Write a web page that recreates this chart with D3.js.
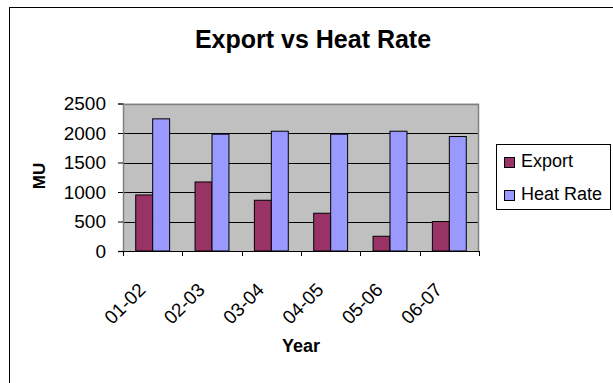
<!DOCTYPE html>
<html>
<head>
<meta charset="utf-8">
<script src="https://cdn.jsdelivr.net/npm/d3@7"></script>
<style>
  html, body { margin: 0; padding: 0; background: #fff; }
  svg { display: block; font-family: "Liberation Sans", Arial, sans-serif; }
</style>
</head>
<body>
<svg id="chart" width="613" height="383"></svg>
<script>
// Yearly export and heat rate figures (MU)
const years = ["01-02", "02-03", "03-04", "04-05", "05-06", "06-07"];
const exportValues = [950, 1170, 860, 640, 250, 500];
const heatRateValues = [2240, 1980, 2030, 1980, 2030, 1940];
const seriesNames = ["Export", "Heat Rate"];
const seriesColors = ["#993366", "#9999FF"];
const yTicks = [0, 500, 1000, 1500, 2000, 2500];

const rows = years.map((y, i) => ({ year: y, values: [exportValues[i], heatRateValues[i]] }));

const svg = d3.select("#chart");
const plot = { left: 123, right: 479, top: 103.5, bottom: 251 };

// Outer chart frame (runs off the right and bottom edges)
svg.append("rect")
  .attr("x", 9.5).attr("y", 7.5)
  .attr("width", 700).attr("height", 500)
  .attr("fill", "#fff").attr("stroke", "#000").attr("stroke-width", 1);

const x = d3.scaleBand().domain(years).range([plot.left, plot.right]).paddingInner(0).paddingOuter(0);
// two bars per year with a 150% gap split on both sides
const inner = d3.scaleBand().domain(d3.range(seriesNames.length))
  .range([0, x.bandwidth()]).paddingInner(0).paddingOuter(0.75);
const y = d3.scaleLinear().domain([0, 2500]).range([plot.bottom, plot.top]);

// Plot area background
svg.append("rect")
  .attr("x", plot.left).attr("y", plot.top)
  .attr("width", plot.right - plot.left).attr("height", plot.bottom - plot.top)
  .attr("fill", "#C0C0C0");

// Horizontal gridlines
svg.append("g")
  .selectAll("line")
  .data(yTicks.filter(t => t > 0 && t < 2500))
  .join("line")
  .attr("x1", plot.left).attr("x2", plot.right)
  .attr("y1", d => Math.round(y(d)) + 0.5).attr("y2", d => Math.round(y(d)) + 0.5)
  .attr("stroke", "#000").attr("stroke-width", 1);

// Plot border (top and right)
svg.append("path")
  .attr("d", `M${plot.left},${Math.round(plot.top) + 0.5}H${plot.right - 0.5}V${plot.bottom}`)
  .attr("fill", "none").attr("stroke", "#808080").attr("stroke-width", 1.5);

// Bars
const groups = svg.append("g").selectAll("g")
  .data(rows)
  .join("g")
  .attr("transform", d => `translate(${x(d.year)},0)`);

groups.selectAll("rect")
  .data(d => d.values.map((v, i) => ({ v, i })))
  .join("rect")
  .attr("x", d => inner(d.i))
  .attr("width", inner.bandwidth())
  .attr("y", d => y(d.v))
  .attr("height", d => y(0) - y(d.v))
  .attr("fill", d => seriesColors[d.i])
  .attr("stroke", "#000").attr("stroke-width", 1);

// Y axis
const yAxis = d3.axisLeft(y).tickValues(yTicks).tickSize(5).tickPadding(12).tickFormat(d3.format("d"));
const gy = svg.append("g").attr("transform", `translate(${plot.left},0)`).call(yAxis);
gy.select(".domain").attr("stroke", "#808080").attr("stroke-width", 1.5);
gy.selectAll(".tick line").attr("stroke", "#000");
gy.selectAll(".tick text").attr("font-size", 19).attr("fill", "#000")
  .attr("font-family", "Liberation Sans, Arial, sans-serif");

// X axis with tick marks on category boundaries
const gx = svg.append("g").attr("transform", `translate(0,${plot.bottom})`);
gx.append("line")
  .attr("x1", plot.left - 5).attr("x2", plot.right)
  .attr("y1", 0.5).attr("y2", 0.5)
  .attr("stroke", "#000").attr("stroke-width", 1);
const boundaries = years.map(yr => x(yr)).concat([plot.right]);
gx.selectAll("line.tk")
  .data(boundaries)
  .join("line").attr("class", "tk")
  .attr("x1", d => Math.round(d) + 0.5).attr("x2", d => Math.round(d) + 0.5)
  .attr("y1", 0).attr("y2", 5)
  .attr("stroke", "#000");
gx.selectAll("text.lbl")
  .data(years)
  .join("text").attr("class", "lbl")
  .attr("transform", d => `translate(${x(d) + x.bandwidth() / 2 - 6},${40}) rotate(-45)`)
  .attr("text-anchor", "end")
  .attr("font-size", 19)
  .attr("fill", "#000")
  .text(d => d);

// Titles
svg.append("text")
  .attr("x", 313).attr("y", 48)
  .attr("text-anchor", "middle")
  .attr("font-size", 25).attr("font-weight", "bold")
  .text("Export vs Heat Rate");

svg.append("text")
  .attr("x", 301).attr("y", 352)
  .attr("text-anchor", "middle")
  .attr("font-size", 18).attr("font-weight", "bold")
  .text("Year");

svg.append("text")
  .attr("transform", "translate(45,176) rotate(-90)")
  .attr("text-anchor", "middle")
  .attr("font-size", 17).attr("font-weight", "bold")
  .text("MU");

// Legend
const legend = svg.append("g");
legend.append("rect")
  .attr("x", 496.5).attr("y", 144.5).attr("width", 114).attr("height", 65)
  .attr("fill", "#fff").attr("stroke", "#000");
const items = legend.selectAll("g.item")
  .data(seriesNames)
  .join("g").attr("class", "item")
  .attr("transform", (d, i) => `translate(0,${i * 33})`);
items.append("rect")
  .attr("x", 504.5).attr("y", 157.5).attr("width", 10).attr("height", 10)
  .attr("fill", (d, i) => seriesColors[i]).attr("stroke", "#000");
items.append("text")
  .attr("x", 521).attr("y", 167)
  .attr("font-size", 18)
  .text(d => d);
</script>
</body>
</html>
